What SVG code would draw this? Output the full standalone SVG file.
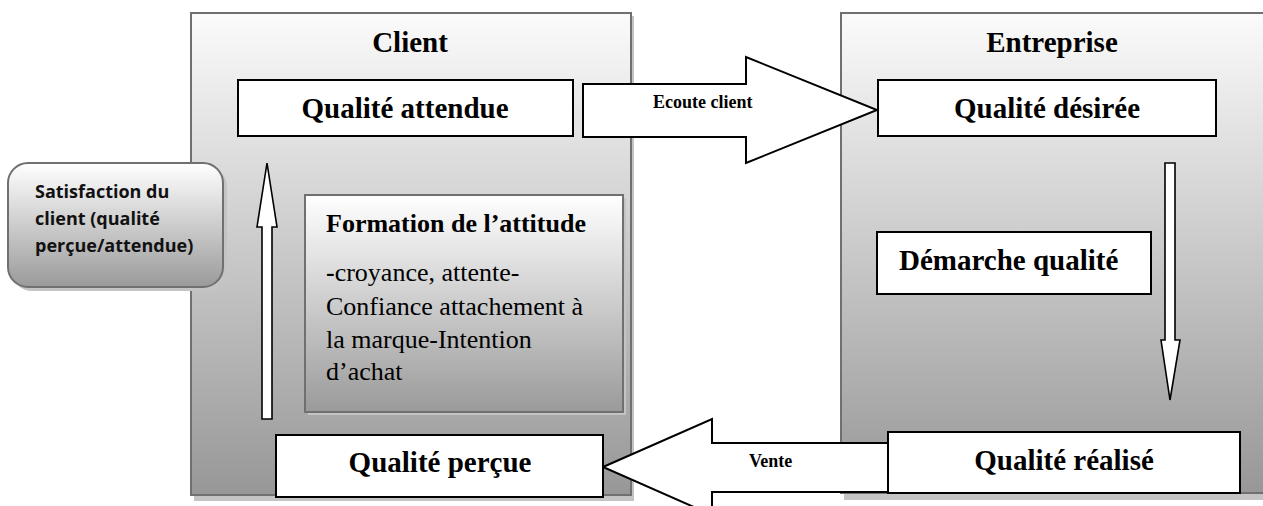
<svg xmlns="http://www.w3.org/2000/svg" width="1263" height="506" viewBox="0 0 1263 506">
<defs>
<linearGradient id="gPanel" x1="0" y1="0" x2="0" y2="1">
<stop offset="0" stop-color="#fbfbfb"/>
<stop offset="1" stop-color="#979797"/>
</linearGradient>
<linearGradient id="gBox" x1="0" y1="0" x2="0" y2="1">
<stop offset="0" stop-color="#ffffff"/>
<stop offset="1" stop-color="#9a9a9a"/>
</linearGradient>
<style>
.panel{fill:url(#gPanel);stroke:#707070;stroke-width:2}
.shadow{fill:#c4c4c4}
.box{fill:#fff;stroke:#000;stroke-width:2}
.gbox{fill:url(#gBox);stroke:#707070;stroke-width:2}
.arrow{fill:#fff;stroke:#000;stroke-width:2;stroke-linejoin:miter}
.thin{fill:#fff;stroke:#000;stroke-width:1.6}
.t{font-family:"Liberation Serif","Times New Roman",serif;fill:#000}
.b{font-weight:bold}
.s{font-family:"Open Sans","Liberation Sans",sans-serif;font-weight:bold;font-size:18px;fill:#111}
</style>
</defs>
<rect width="1263" height="506" fill="#fff"/>

<g id="panel-client">
<rect class="shadow" x="194" y="16" width="440" height="485"/>
<rect class="panel" x="191" y="13" width="440" height="482"/>
<text class="t b" x="410" y="52" font-size="29" text-anchor="middle">Client</text>
</g>

<g id="panel-entreprise">
<rect class="shadow" x="844" y="16" width="430" height="484"/>
<rect class="panel" x="841" y="13" width="430" height="480"/>
<text class="t b" x="1052" y="52" font-size="29" text-anchor="middle">Entreprise</text>
</g>

<g id="connectors">
<polygon id="ecoute-client" class="arrow" points="583,84 746,84 746,57 877,110 746,163 746,137 583,137"/>
<text class="t b" x="653" y="108" font-size="18">Ecoute client</text>
<polygon id="vente" class="arrow" points="603,467 712,419 712,443 900,443 900,492 712,492 712,515"/>
<text class="t b" x="749" y="467" font-size="18">Vente</text>
<polygon id="up-arrow" class="thin" points="262,419 262,227 257,227 267,163 277,227 272,227 272,419"/>
<polygon id="down-arrow" class="thin" points="1165,163 1175,163 1175,340 1180,340 1170,400 1161,340 1165,340"/>
</g>

<g id="satisfaction">
<rect class="shadow" x="12" y="167" width="215" height="124" rx="20"/>
<rect class="gbox" x="8" y="163" width="215" height="124" rx="20"/>
<text class="s" x="35" y="198">Satisfaction du</text>
<text class="s" x="35" y="225">client (qualité</text>
<text class="s" x="35" y="252">perçue/attendue)</text>
</g>

<g id="qualite-attendue">
<rect class="box" x="238" y="80" width="335" height="56"/>
<text class="t b" x="405" y="118" font-size="29" text-anchor="middle">Qualité attendue</text>
</g>

<g id="formation">
<rect class="shadow" x="308" y="198" width="318" height="217"/>
<rect class="gbox" x="305" y="195" width="318" height="217"/>
<text class="t b" x="326" y="232" font-size="26">Formation de l’attitude</text>
<text class="t" x="326" y="281" font-size="26"><tspan font-weight="bold">-</tspan>croyance, attente-</text>
<text class="t" x="326" y="315" font-size="26">Confiance attachement à</text>
<text class="t" x="326" y="348" font-size="26">la marque-Intention</text>
<text class="t" x="326" y="380" font-size="26">d’achat</text>
</g>

<g id="qualite-percue">
<rect class="box" x="276" y="435" width="327" height="62"/>
<text class="t b" x="440" y="472" font-size="29" text-anchor="middle">Qualité perçue</text>
</g>

<g id="qualite-desiree">
<rect class="box" x="878" y="80" width="338" height="56"/>
<text class="t b" x="1047" y="118" font-size="29" text-anchor="middle">Qualité désirée</text>
</g>

<g id="demarche-qualite">
<rect class="box" x="877" y="232" width="274" height="62"/>
<text class="t b" x="899" y="270" font-size="29">Démarche qualité</text>
</g>

<g id="qualite-realise">
<rect class="box" x="888" y="432" width="352" height="61"/>
<text class="t b" x="1064" y="470" font-size="29" text-anchor="middle">Qualité réalisé</text>
</g>
</svg>
